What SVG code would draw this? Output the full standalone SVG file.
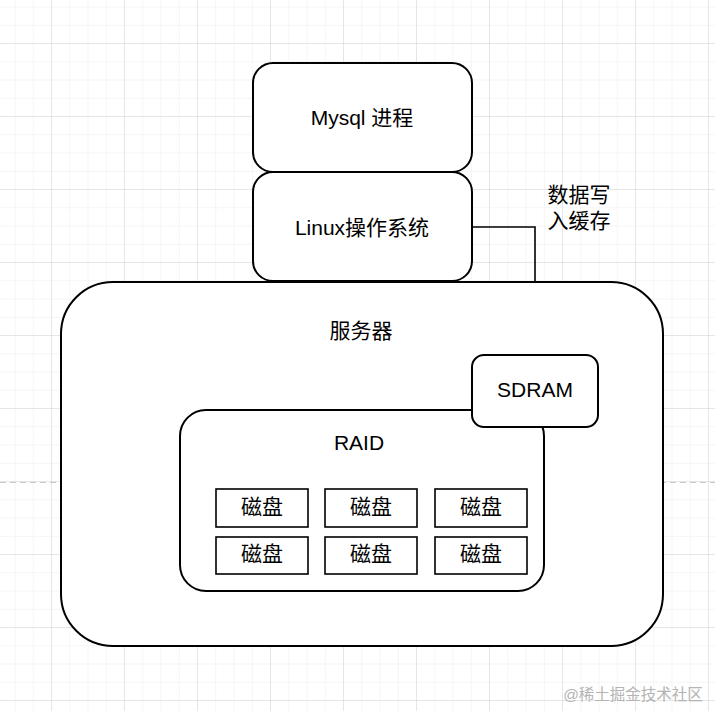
<svg xmlns="http://www.w3.org/2000/svg" width="715" height="711" viewBox="0 0 715 711">
<defs>
<pattern id="minor" x="-21" y="-29" width="18.25" height="18.25" patternUnits="userSpaceOnUse">
<path d="M18.25 0V18.25M0 18.25H18.25" fill="none" stroke="#ececec" stroke-width="1"/>
</pattern>
<pattern id="major" x="-21" y="-29" width="73" height="73" patternUnits="userSpaceOnUse">
<path d="M73 0V73M0 73H73" fill="none" stroke="#d6d6d6" stroke-width="1"/>
</pattern>
<style>
.box{fill:#ffffff;stroke:#000000;stroke-width:2}
.disk{fill:#ffffff;stroke:#000000;stroke-width:1.6}
.t{font-family:"Liberation Sans","Noto Sans CJK SC",sans-serif;font-size:21px;fill:#000000;text-anchor:middle;dominant-baseline:central}
.conn{fill:none;stroke:#000000;stroke-width:1.6}
</style>
</defs>
<rect width="715" height="711" fill="#ffffff"/>
<rect width="715" height="711" fill="url(#minor)"/>
<rect width="715" height="711" fill="url(#major)"/>
<line x1="0" y1="482.5" x2="715" y2="482.5" stroke="#c8c8c8" stroke-width="1" stroke-dasharray="6,4"/>

<g id="server">
<rect class="box" x="61" y="282" width="602" height="364" rx="52" ry="52"/>
<text class="t" x="361" y="330">服务器</text>
</g>

<g id="connectors">
<path class="conn" d="M472 227H535V282"/>
</g>

<g id="mysql">
<rect class="box" x="253" y="63" width="219" height="109" rx="20" ry="20"/>
<text class="t" x="362" y="117">Mysql 进程</text>
</g>

<g id="linux">
<rect class="box" x="253" y="172" width="219" height="109" rx="20" ry="20"/>
<text class="t" x="362" y="227">Linux操作系统</text>
</g>

<g id="label-cache">
<text class="t" x="579" y="194">数据写</text>
<text class="t" x="579" y="220">入缓存</text>
</g>

<g id="raid">
<rect class="box" x="180" y="410" width="364" height="181" rx="26" ry="26"/>
<text class="t" x="359" y="442">RAID</text>
</g>

<g id="sdram">
<rect class="box" x="472" y="355" width="126" height="72" rx="12" ry="12"/>
<text class="t" x="535" y="389">SDRAM</text>
</g>

<g id="disk1"><rect class="disk" x="216" y="489" width="92" height="38"/><text class="t" x="262" y="506">磁盘</text></g>
<g id="disk2"><rect class="disk" x="325" y="489" width="92" height="38"/><text class="t" x="371" y="506">磁盘</text></g>
<g id="disk3"><rect class="disk" x="435" y="489" width="92" height="38"/><text class="t" x="481" y="506">磁盘</text></g>
<g id="disk4"><rect class="disk" x="216" y="537" width="92" height="37"/><text class="t" x="262" y="553">磁盘</text></g>
<g id="disk5"><rect class="disk" x="325" y="537" width="92" height="37"/><text class="t" x="371" y="553">磁盘</text></g>
<g id="disk6"><rect class="disk" x="435" y="537" width="92" height="37"/><text class="t" x="481" y="553">磁盘</text></g>

<text x="633" y="694" font-family="'Liberation Sans','Noto Sans CJK SC',sans-serif" font-size="15.5" fill="#b4b4b4" text-anchor="middle" dominant-baseline="central">@稀土掘金技术社区</text>
</svg>
